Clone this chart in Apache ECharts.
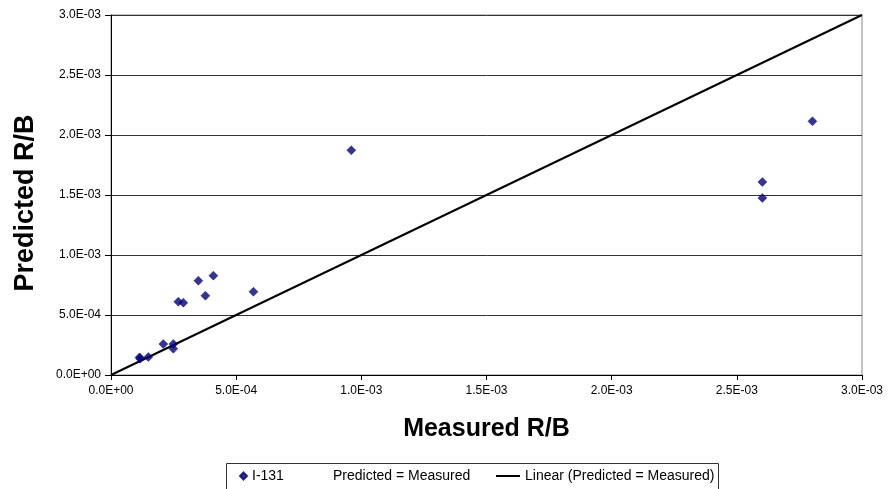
<!DOCTYPE html>
<html>
<head>
<meta charset="utf-8">
<script src="https://cdn.jsdelivr.net/npm/echarts@6/dist/echarts.min.js"></script>
<style>
html,body{margin:0;padding:0;background:#fff;}
#chart{width:888px;height:489px;}
</style>
</head>
<body>
<div id="chart"></div>
<script>
// Measured R/B (x) values of the I-131 points
var measured = [0.000114, 0.000116, 0.000149, 0.000209, 0.000249, 0.000249, 0.000269, 0.000289, 0.000349, 0.000377, 0.000409, 0.000569, 0.000960, 0.002602, 0.002602, 0.002802];
// Predicted R/B (y) values of the I-131 points
var predicted = [0.000147, 0.000136, 0.000150, 0.000258, 0.000258, 0.000219, 0.000611, 0.000603, 0.000786, 0.000661, 0.000828, 0.000694, 0.001873, 0.001608, 0.001475, 0.002114];
// Predicted = Measured reference line endpoints
var lineX = [0, 0.003];
var lineY = [0, 0.003];
var seriesNames = ['I-131', 'Predicted = Measured', 'Linear (Predicted = Measured)'];
var xTitle = 'Measured R/B';
var yTitle = 'Predicted R/B';

function expFmt(v) {
  if (v === 0) return '0.0E+00';
  var s = v.toExponential(1);
  var parts = s.split('e');
  var e = parseInt(parts[1], 10);
  var sign = e < 0 ? '-' : '+';
  var a = Math.abs(e);
  return parts[0] + 'E' + sign + (a < 10 ? '0' + a : a);
}

var scatterData = measured.map(function (x, i) { return [x, predicted[i]]; });
var lineData = lineX.map(function (x, i) { return [x, lineY[i]]; });

var font = 'Arial, "Liberation Sans", sans-serif';
var legendText = {fontFamily: font, fontSize: 14, color: '#000'};
var chart = echarts.init(document.getElementById('chart'));
chart.setOption({
  animation: false,
  backgroundColor: '#fff',
  grid: {left: 111, right: 26, top: 15, bottom: 114, show: true, borderColor: '#888', borderWidth: 1},
  xAxis: {
    type: 'value', min: 0, max: 0.003, interval: 0.0005,
    name: xTitle, nameLocation: 'middle', nameGap: 42,
    nameTextStyle: {fontFamily: font, fontSize: 25, fontWeight: 'bold', color: '#000'},
    axisLine: {show: true, lineStyle: {color: '#000', width: 1}},
    axisTick: {show: true, length: 5, lineStyle: {color: '#000'}},
    axisLabel: {formatter: expFmt, fontFamily: font, fontSize: 12, color: '#000', margin: 10},
    splitLine: {show: false}
  },
  yAxis: {
    type: 'value', min: 0, max: 0.003, interval: 0.0005,
    name: yTitle, nameLocation: 'middle', nameGap: 72, nameRotate: 90,
    nameTextStyle: {fontFamily: font, fontSize: 27, fontWeight: 'bold', color: '#000', padding: [0, 16, 0, 0]},
    axisLine: {show: true, lineStyle: {color: '#000', width: 1}},
    axisTick: {show: true, length: 6, lineStyle: {color: '#000'}},
    axisLabel: {formatter: expFmt, fontFamily: font, fontSize: 12, color: '#000', margin: 10},
    splitLine: {show: true, lineStyle: {color: '#333', width: 1}}
  },
  legend: [
    {data: [{name: seriesNames[0], icon: 'diamond'}], left: 239, top: 469, itemWidth: 7, itemHeight: 7, itemGap: 0,
     textStyle: legendText, padding: 0},
    {data: [{name: seriesNames[1], icon: 'rect', itemStyle: {opacity: 0}}], left: 327, top: 469, itemWidth: 1, itemHeight: 7, itemGap: 0,
     textStyle: legendText, padding: 0},
    {data: [{name: seriesNames[2], icon: 'rect', itemStyle: {color: '#000'}}], left: 496, top: 469, itemWidth: 24, itemHeight: 2, itemGap: 0,
     textStyle: legendText, padding: 0}
  ],
  graphic: [{
    type: 'rect', silent: true,
    shape: {x: 226.5, y: 463.5, width: 492, height: 40},
    style: {fill: 'none', stroke: '#333', lineWidth: 1}
  }],
  series: [
    {name: seriesNames[0], type: 'scatter', data: scatterData, symbol: 'diamond', symbolSize: 9,
     itemStyle: {color: '#000080', borderColor: '#000080', borderWidth: 0.5}, z: 5},
    {name: seriesNames[1], type: 'scatter', data: [], itemStyle: {color: 'transparent'}},
    {name: seriesNames[2], type: 'line', data: lineData, symbol: 'none', showSymbol: false,
     lineStyle: {color: '#000', width: 2}, itemStyle: {color: '#000'}, z: 4}
  ]
});
</script>
</body>
</html>
